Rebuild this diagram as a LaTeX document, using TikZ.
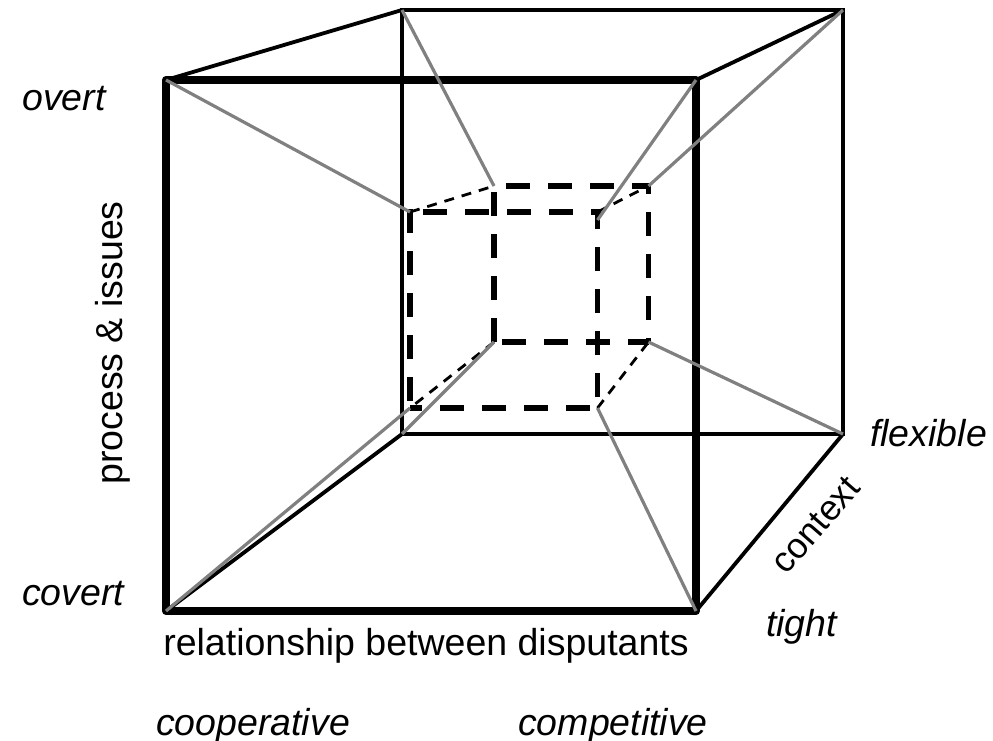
\documentclass[tikz,border=0pt]{standalone}
\usepackage{fontspec}
\setmainfont{Liberation Sans}
\definecolor{greyline}{HTML}{808080}
\tikzset{
 thickside/.style={line width=8pt,line cap=round,line join=round},
 med/.style={line width=3.8pt},
 thinside/.style={line width=3.4pt},
 grey/.style={line width=3.2pt,draw=greyline},
 dashbig/.style={line width=5.8pt,dash pattern=on 24pt off 18pt},
 dashsmall/.style={line width=2.8pt,dash pattern=on 10pt off 8pt},
 lab/.style={font=\fontsize{37.5pt}{40pt}\selectfont,inner sep=0pt},
 ilab/.style={font=\itshape\fontsize{37.5pt}{40pt}\selectfont,inner sep=0pt}
}
\begin{document}
\begin{tikzpicture}[x=1pt,y=-1pt]
\useasboundingbox (0,0) rectangle (993,741);
% outer front
\coordinate (A) at (166,80);\coordinate (B) at (696,80);\coordinate (C) at (696,611);\coordinate (D) at (166,611);
% outer back
\coordinate (E) at (402,10);\coordinate (F) at (843,10);\coordinate (G) at (843,434);\coordinate (H) at (402,434);
% inner front
\coordinate (a) at (410,212);\coordinate (b) at (597.5,212);\coordinate (c) at (597.5,408);\coordinate (d) at (410,408);
% inner back
\coordinate (e) at (494,186);\coordinate (f) at (648.5,186);\coordinate (g) at (648.5,342);\coordinate (h) at (494,342);
\coordinate (bx) at (597.5,220);
\draw[thinside] (E)--(F)--(G)--(H)--cycle;
\draw[med] (A)--(E) (B)--(F) (C)--(G) (D)--(H);
\draw[thickside] (A)--(B)--(C)--(D)--cycle;
% inner cube
\draw[dashbig] ([yshift=3pt]a)--(d);
\draw[dashbig,dash phase=12pt] (d)--(c);
\draw[dashbig,dash phase=31pt] (c)--(b);
\draw[dashbig] ([xshift=13.3pt]a)--([xshift=3pt]b);
\draw[dashbig] ([xshift=12pt]e)--(f);
\draw[dashbig,dash phase=16pt] (f)--(g);
\draw[dashbig,dash phase=3pt] (g)--(h);
\draw[dashbig] (h)--(e);
\draw[dashsmall] (a)--(e) (b)--(f) (c)--(g) (h)--(d);
\draw[grey] (A)--(a) (E)--(e) (B)--(bx) (F)--(f) (G)--(g) (C)--(c) (D)--(d) (H)--(h);
\node[ilab,anchor=base west] (n1) at (22,111) {overt};
\node[ilab,anchor=base west] (n2) at (22,605) {covert};
\node[lab,rotate=90] (n3) at (113,343) {process \& issues};
\node[lab,anchor=base] (n4) at (426,655) {relationship between disputants};
\node[ilab,anchor=base] (n5) at (253,735) {cooperative};
\node[ilab,anchor=base] (n6) at (613,735) {competitive};
\node[ilab,anchor=base west] (n7) at (870,446) {flexible};
\node[ilab,anchor=base west] (n8) at (766,636) {tight};
\node[lab,rotate=49,font=\fontsize{35.5pt}{38pt}\selectfont] (n9) at (816,525) {context};
\end{tikzpicture}
\end{document}
